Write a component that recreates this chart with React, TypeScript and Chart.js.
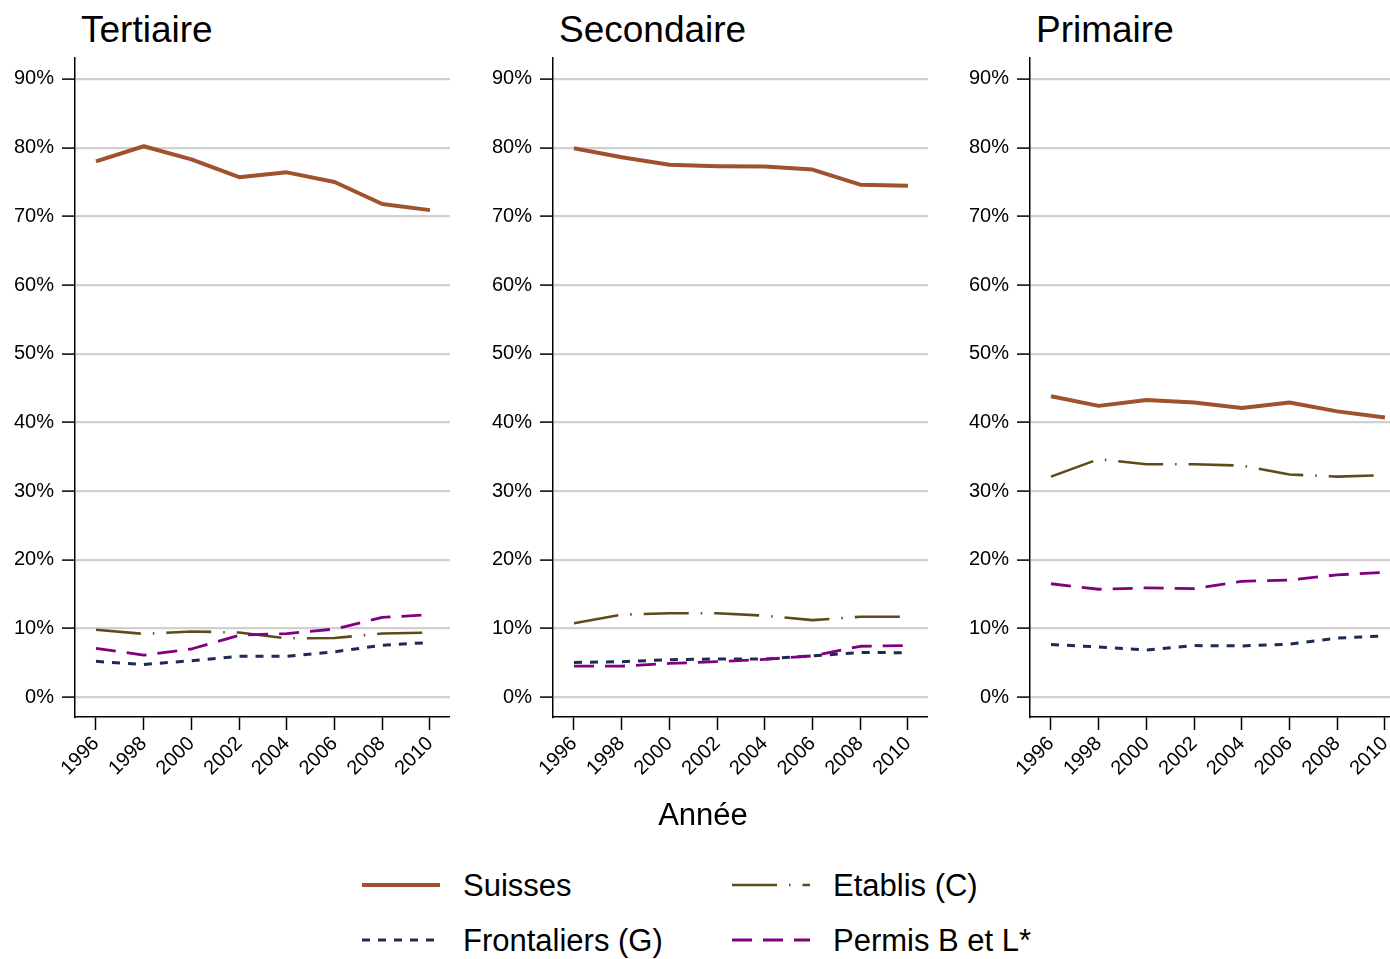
import React, { useEffect, useRef } from "react";
import { Chart, registerables } from "chart.js";

Chart.register(...registerables);

// ---------- data ----------
const years = [1996, 1998, 2000, 2002, 2004, 2006, 2008, 2010];
const yTickValues = [0, 10, 20, 30, 40, 50, 60, 70, 80, 90];
const panelTitles = ["Tertiaire", "Secondaire", "Primaire"];
const seriesNames = ["Suisses", "Etablis (C)", "Frontaliers (G)", "Permis B et L*"];
const xAxisTitle = "Année";

const tertiaireSuisses = [78.0, 80.2, 78.3, 75.7, 76.4, 75.0, 71.8, 70.9];
const tertiaireEtablis = [9.8, 9.2, 9.55, 9.4, 8.55, 8.6, 9.25, 9.4];
const tertiaireFrontaliers = [5.2, 4.75, 5.3, 5.95, 5.95, 6.6, 7.55, 7.95];
const tertiairePermis = [7.1, 6.1, 7.0, 9.0, 9.25, 9.9, 11.6, 12.0];

const secondaireSuisses = [79.9, 78.6, 77.5, 77.3, 77.25, 76.8, 74.6, 74.45];
const secondaireEtablis = [10.75, 12.0, 12.2, 12.2, 11.85, 11.2, 11.7, 11.7];
const secondaireFrontaliers = [5.05, 5.15, 5.45, 5.55, 5.55, 6.0, 6.5, 6.45];
const secondairePermis = [4.5, 4.5, 4.9, 5.15, 5.5, 6.0, 7.4, 7.5];

const primaireSuisses = [43.8, 42.4, 43.25, 42.9, 42.1, 42.9, 41.6, 40.7];
const primaireEtablis = [32.1, 34.65, 33.9, 33.9, 33.7, 32.4, 32.1, 32.3];
const primaireFrontaliers = [7.65, 7.3, 6.85, 7.5, 7.45, 7.7, 8.6, 8.9];
const primairePermis = [16.5, 15.7, 15.9, 15.8, 16.85, 17.05, 17.8, 18.15];

const panelData = [
  [tertiaireSuisses, tertiaireEtablis, tertiaireFrontaliers, tertiairePermis],
  [secondaireSuisses, secondaireEtablis, secondaireFrontaliers, secondairePermis],
  [primaireSuisses, primaireEtablis, primaireFrontaliers, primairePermis],
];

// ---------- styles ----------
const seriesColors = ["#a0522d", "#5e4b1c", "#1c2b52", "#800080"];
const seriesDashes: number[][] = [[], [45, 12, 1.5, 12], [8, 8], [20, 11]];
const seriesWidths = [4, 2.6, 3, 2.8];
const seriesOrder = [3, 2, 1, 0];

const FONT = "'Liberation Sans', Arial, Helvetica, sans-serif";
const AXIS_LEFT = [75, 553, 1030];
const CANVAS_W = 450;
const CANVAS_H = 800;
const PLOT_TOP = 58;
const PLOT_BOTTOM = 717;

function Panel({ index }: { index: number }) {
  const ref = useRef<HTMLCanvasElement | null>(null);
  useEffect(() => {
    if (!ref.current) return;
    const datasets = seriesNames.map((name, s) => ({
      label: name,
      data: years.map((yr, i) => ({ x: yr, y: panelData[index][s][i] })),
      borderColor: seriesColors[s],
      backgroundColor: seriesColors[s],
      borderWidth: seriesWidths[s],
      borderDash: seriesDashes[s],
      borderCapStyle: "butt" as const,
      borderJoinStyle: "round" as const,
      pointRadius: 0,
      tension: 0,
      fill: false,
      order: seriesOrder[s],
    }));
    const chart = new Chart(ref.current, {
      type: "line",
      data: { datasets },
      options: {
        animation: false,
        responsive: false,
        maintainAspectRatio: false,
        layout: { padding: { top: PLOT_TOP, left: 0, right: 0, bottom: 0 } },
        plugins: {
          legend: { display: false },
          title: { display: false },
          tooltip: { enabled: false },
        },
        scales: {
          x: {
            type: "linear",
            min: 1995.12,
            max: 2010.84,
            afterBuildTicks: (scale: any) => {
              scale.ticks = years.map((v) => ({ value: v }));
            },
            afterFit: (scale: any) => {
              scale.height = CANVAS_H - PLOT_BOTTOM;
            },
            border: { display: true, color: "#000", width: 1.5 },
            grid: {
              drawOnChartArea: false,
              drawTicks: true,
              tickLength: 13,
              tickColor: "#000",
              tickWidth: 1.5,
            },
            ticks: {
              autoSkip: false,
              minRotation: 45,
              maxRotation: 45,
              padding: 2,
              color: "#000",
              font: { family: FONT, size: 20 },
              callback: (v: any) => String(v),
            },
          },
          y: {
            type: "linear",
            min: -2.9,
            max: 93.05,
            afterBuildTicks: (scale: any) => {
              scale.ticks = yTickValues.map((v) => ({ value: v }));
            },
            afterFit: (scale: any) => {
              scale.width = 75;
            },
            border: { display: true, color: "#000", width: 1.5 },
            grid: {
              color: "#d0d0d0",
              lineWidth: 2.2,
              drawTicks: true,
              tickLength: 13,
              tickColor: "#000",
              tickWidth: 1.5,
            },
            ticks: {
              padding: 8,
              color: "#000",
              font: { family: FONT, size: 20 },
              callback: (v: any) => `${v}%`,
            },
          },
        },
      },
    });
    return () => chart.destroy();
  }, [index]);
  return (
    <canvas
      ref={ref}
      width={CANVAS_W}
      height={CANVAS_H}
      style={{
        position: "absolute",
        left: AXIS_LEFT[index] - 75,
        top: 0,
        width: CANVAS_W,
        height: CANVAS_H,
      }}
    />
  );
}

const legendLayout = [
  { s: 0, lineX: 362, textX: 463, y: 885 },
  { s: 1, lineX: 732, textX: 833, y: 885 },
  { s: 2, lineX: 362, textX: 463, y: 940 },
  { s: 3, lineX: 732, textX: 833, y: 940 },
];

export default function App() {
  return (
    <div
      style={{
        position: "fixed",
        left: 0,
        top: 0,
        width: 1390,
        height: 959,
        overflow: "hidden",
        background: "#fff",
        fontFamily: FONT,
      }}
    >
      {panelTitles.map((t, i) => (
        <div
          key={t}
          style={{
            position: "absolute",
            left: AXIS_LEFT[i] + 6,
            top: 11,
            fontSize: 37,
            lineHeight: "37px",
            color: "#000",
            whiteSpace: "nowrap",
          }}
        >
          {t}
        </div>
      ))}
      {[0, 1, 2].map((i) => (
        <Panel key={i} index={i} />
      ))}
      <div
        style={{
          position: "absolute",
          left: 603,
          width: 200,
          textAlign: "center",
          top: 799,
          fontSize: 31,
          lineHeight: "31px",
          color: "#000",
        }}
      >
        {xAxisTitle}
      </div>
      {legendLayout.map((it) => (
        <React.Fragment key={it.s}>
          <svg
            style={{ position: "absolute", left: it.lineX, top: it.y - 5 }}
            width={78}
            height={10}
          >
            <line
              x1={0}
              y1={5}
              x2={78}
              y2={5}
              stroke={seriesColors[it.s]}
              strokeWidth={seriesWidths[it.s]}
              strokeDasharray={seriesDashes[it.s].length ? seriesDashes[it.s].join(" ") : undefined}
            />
          </svg>
          <div
            style={{
              position: "absolute",
              left: it.textX,
              top: it.y - 15,
              fontSize: 31,
              lineHeight: "31px",
              color: "#000",
              whiteSpace: "nowrap",
            }}
          >
            {seriesNames[it.s]}
          </div>
        </React.Fragment>
      ))}
    </div>
  );
}
